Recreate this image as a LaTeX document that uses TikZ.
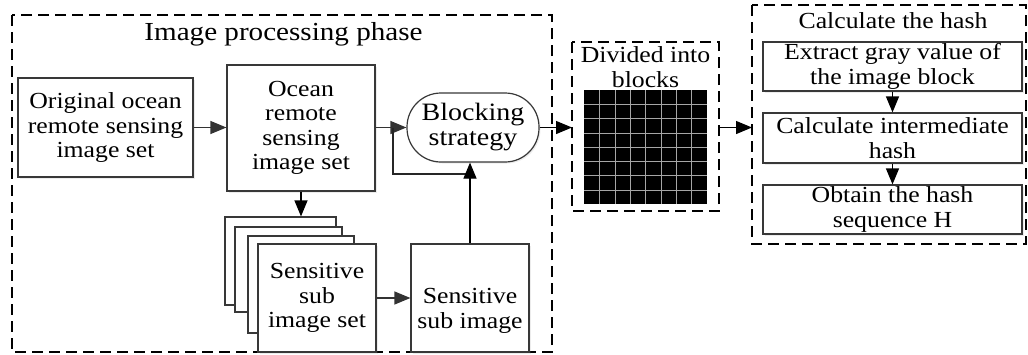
\documentclass[tikz,border=0pt]{standalone}
\usepackage{fontspec}
\setmainfont{Liberation Serif}[FakeStretch=1.12]
\usetikzlibrary{arrows.meta,shadows,calc}
\newcommand\mybody{\fontsize{23}{24.5}\selectfont}
\newcommand\mybig{\fontsize{25}{25}\selectfont}
\newcommand\mytitle{\fontsize{26}{26}\selectfont}
\begin{document}
\begin{tikzpicture}[x=1pt,y=-1pt,
  box/.style={draw=black!78, line width=1.2pt, fill=white, inner sep=0pt, align=center, font=\mybody,
    drop shadow={shadow xshift=1.5pt,shadow yshift=-1.5pt,opacity=0.15}},
  sheet/.style={draw=black!78, line width=1.2pt, fill=white, inner sep=0pt},
  dbox/.style={draw=black, line width=1.4pt, dash pattern=on 11pt off 6pt},
  arr/.style={draw=black!80, line width=1.2pt, -{Triangle[length=16pt,width=13pt]}},
  txt/.style={font=\mybody, align=center, inner sep=0pt}]
\useasboundingbox (0,0) rectangle (1028,354);

% outer dashed frames
\draw[dbox] (12,15) rectangle (552,352);
\node[font=\mytitle, anchor=base, inner sep=0pt] (t1) at (283.5,40) {Image processing phase};

% left part
\node[box, minimum width=175pt, minimum height=99pt] (orig) at (105.5,127.5)
  {Original ocean\\remote sensing\\image set};
\node[box, minimum width=148pt, minimum height=126pt] (ocean) at (301,128)
  {Ocean\\remote\\sensing\\image set};
\node[box, font=\mybig, minimum width=132pt, minimum height=69pt, rounded corners=34pt] (block) at (473,127.5)
  {Blocking\\strategy};

% stack of sheets
\node[sheet, minimum width=111pt, minimum height=88pt] (s1) at (280.5,261) {};
\node[sheet, minimum width=107pt, minimum height=85pt] (s2) at (288.5,269.5) {};
\node[sheet, minimum width=106pt, minimum height=97pt] (s3) at (301,284.5) {};
\node[box, minimum width=118pt, minimum height=108pt] (front) at (317,298)
  {Sensitive\\sub\\image set};

\node[box, minimum width=118pt, minimum height=108pt] (sub) at (470,298) {};
\node[txt] (subt) at (470,311) {Sensitive\\sub image};

% arrows left part
\draw[arr] (orig.east) -- (orig.east -| ocean.west);
\draw[arr] (ocean.east |- block.west) -- (block.west);
\draw[arr, draw=black] (ocean.south) -- (ocean.south |- s1.north);
\draw[arr] (front.east) -- (sub.west);
\coordinate (fb) at (393,127.5);
\coordinate (fbc) at (470,174);
\draw[draw=black!85, line width=1.2pt] (fb) |- (fbc);
\draw[arr, draw=black] (sub.north) -- (sub.north |- block.south);

% divided into blocks
\draw[dbox] (572,42) rectangle (719,211);
\coordinate (div) at (645.5,126.5);
\fill[black] (584,90) rectangle (707,204);
\foreach \i in {1,...,7} {
  \draw[black!35, line width=0.5pt] ({584+\i*123/8},90) -- ({584+\i*123/8},204);
  \draw[black!35, line width=0.5pt] (584,{90+\i*114/8}) -- (707,{90+\i*114/8});
}
\node[txt] (divt) at (645.5,67.2) {Divided into\\blocks};

% hash
\draw[dbox] (752,5) rectangle (1026,244);
\node[font=\mybody, anchor=base, inner sep=0pt] (t2) at (893,28) {Calculate the hash};
\node[box, minimum width=259pt, minimum height=49pt] (h1) at (892.5,66.5)
  {Extract gray value of\\the image block};
\node[box, minimum width=259pt, minimum height=50pt] (h2) at (892.5,138)
  {Calculate intermediate\\hash};
\node[box, minimum width=259pt, minimum height=49pt] (h3) at (892.5,209.5)
  {Obtain the hash\\sequence H};
\draw[arr, draw=black] (h1.south) -- (h2.north);
\draw[arr, draw=black] (h2.south) -- (h3.north);

\coordinate (divw) at (572,127.5);
\coordinate (dive) at (719,127.5);
\coordinate (hashw) at (752,127.5);
\draw[arr, draw=black] (block.east) -- (divw);
\draw[arr, draw=black] (dive) -- (hashw);
\end{tikzpicture}
\end{document}
